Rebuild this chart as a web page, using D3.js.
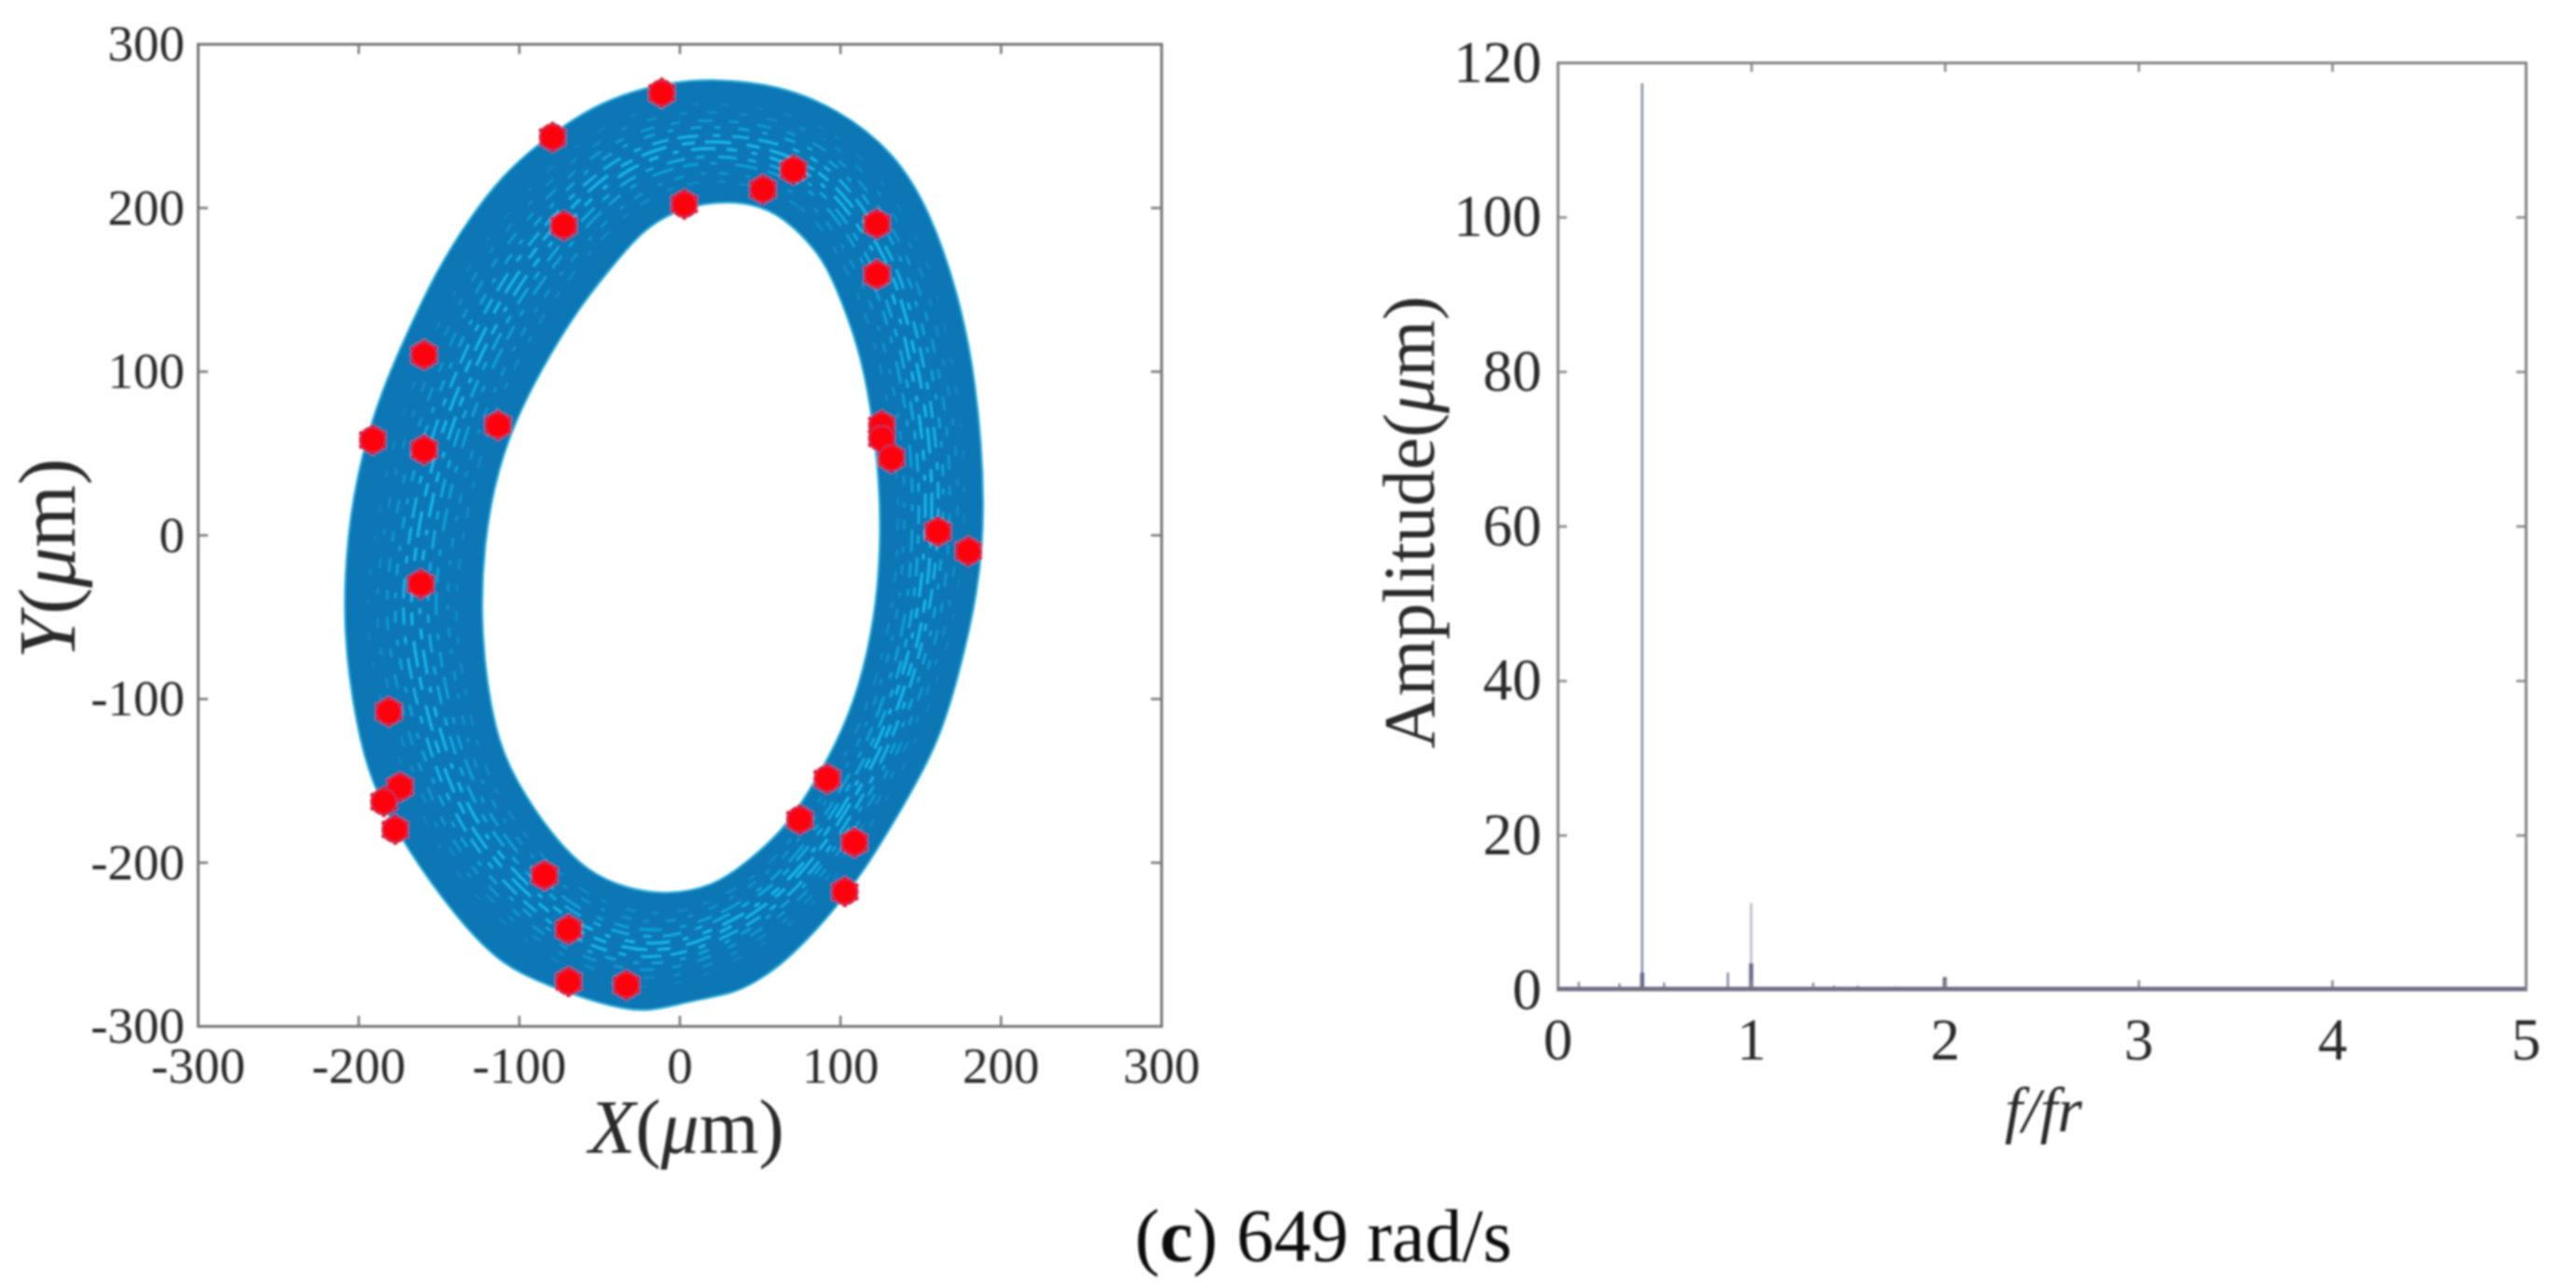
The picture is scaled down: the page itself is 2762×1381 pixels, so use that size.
<!DOCTYPE html>
<html>
<head>
<meta charset="utf-8">
<script src="https://cdn.jsdelivr.net/npm/d3@7"></script>
<style>
  body { margin: 0; background: #fff; }
  text { font-family: "Liberation Serif", serif; fill: #2b2b2b; }
</style>
</head>
<body>
<div class="svg-container"></div>
<script>
// orbit plot: band edges, [x, y] in um
const outerEdge = [[22,279],[61,275],[98,261],[134,234],[156,198],[173,150],[185,96],[191,16],[186,-36],[174,-86],[161,-129],[134,-175],[114,-207],[93,-233],[79,-248],[63,-263],[48,-273],[34,-280],[12,-284],[-1,-287],[-19,-291],[-33,-290],[-54,-285],[-80,-276],[-110,-264],[-139,-234],[-170,-192],[-192,-152],[-201,-118],[-210,-60],[-207,3],[-198,49],[-186,87],[-169,125],[-152,160],[-132,192],[-110,220],[-88,239],[-59,259],[-36,269],[-10,276]];
const innerEdge = [[22,204],[51,202],[71,189],[90,168],[100,145],[111,116],[119,81],[125,28],[125,-10],[122,-48],[112,-94],[97,-129],[81,-156],[65,-180],[42,-200],[21,-215],[-9,-220],[-33,-216],[-57,-206],[-80,-183],[-102,-150],[-115,-122],[-124,-61],[-122,-5],[-113,41],[-99,77],[-79,113],[-60,142],[-41,165],[-23,186],[-3,198]];

// lighter orbit streaks inside the band, inner ring first
const streakRings = [
  [[22,216],[75,200],[108,153],[129,84],[136,8],[127,-70],[98,-144],[48,-207],[-9,-231],[-60,-217],[-114,-156],[-138,-63],[-135,-4],[-113,79],[-72,152],[-22,203]],
  [[22,221],[77,205],[112,157],[134,85],[140,8],[131,-70],[102,-145],[50,-210],[-9,-236],[-61,-222],[-118,-160],[-143,-64],[-141,-3],[-119,79],[-77,155],[-24,208]],
  [[22,227],[79,211],[117,161],[139,86],[145,8],[136,-70],[106,-146],[53,-214],[-9,-241],[-62,-228],[-121,-165],[-150,-65],[-148,-3],[-126,80],[-83,158],[-27,214]],
  [[22,231],[80,215],[120,164],[143,86],[149,8],[140,-70],[110,-146],[55,-216],[-9,-245],[-63,-232],[-124,-169],[-155,-66],[-153,-2],[-131,81],[-87,161],[-29,218]],
  [[22,236],[82,219],[124,167],[147,87],[153,8],[143,-70],[113,-147],[58,-219],[-9,-249],[-65,-236],[-127,-173],[-160,-67],[-158,-2],[-136,81],[-91,164],[-31,223]],
  [[22,240],[84,223],[127,170],[151,88],[157,8],[147,-70],[116,-148],[60,-221],[-9,-253],[-66,-240],[-130,-177],[-165,-68],[-163,-1],[-141,81],[-96,166],[-33,227]],
  [[22,244],[86,228],[130,173],[155,88],[161,8],[150,-70],[120,-149],[63,-224],[-9,-257],[-67,-245],[-133,-181],[-170,-69],[-168,-1],[-146,82],[-100,169],[-35,231]],
  [[22,249],[88,232],[134,176],[159,89],[164,8],[154,-70],[123,-150],[65,-226],[-9,-261],[-68,-249],[-136,-185],[-175,-70],[-173,0],[-151,83],[-104,172],[-37,236]],
  [[22,253],[89,236],[137,179],[163,90],[168,8],[158,-70],[126,-151],[67,-229],[-9,-265],[-69,-253],[-139,-189],[-180,-70],[-178,1],[-156,84],[-109,175],[-39,240]],
  [[22,258],[91,241],[141,182],[167,91],[173,8],[162,-70],[130,-151],[70,-232],[-9,-270],[-70,-258],[-142,-193],[-186,-71],[-184,1],[-162,84],[-114,178],[-41,245]],
  [[22,263],[93,246],[145,186],[172,92],[177,8],[166,-70],[134,-152],[72,-235],[-9,-275],[-71,-263],[-145,-197],[-192,-72],[-189,2],[-168,85],[-119,181],[-44,250]]
];

// red markers on the orbit
const markerX = [-11,-79,-72,3,52,71,123,123,-159,-113,-191,-159,126,126,132,161,180,-161,-181,92,-174,-184,-177,75,109,103,-84,-69,-69,-33];
const markerY = [270,243,189,202,211,223,190,159,110,67,58,52,67,59,47,2,-10,-30,-108,-149,-154,-163,-180,-174,-188,-218,-208,-241,-273,-275];

// spectrum plot
const spikeFreq = [0.437,1.0,0.11,0.32,0.55,0.88,1.32,1.43,1.55,1.75,2.0,2.43,3.0];
const spikeAmp = [117.3,11.2,1.0,0.8,0.9,2.2,0.9,0.5,0.5,0.4,1.6,0.3,0.3];
const spikeBaseFreq = [0.437,1.0,2.0];
const spikeBaseAmp = [2.2,3.4,1.6];
const floorFreq = [0,5];
const floorAmp = [0.15,0.15];

const orbitTicks = [-300,-200,-100,0,100,200,300];
const ampTicks = [0,20,40,60,80,100,120];
const freqTicks = [0,1,2,3,4,5];

const width = 2762;
const height = 1381;

const svg = d3.select('.svg-container')
  .append('svg')
  .attr('width', width)
  .attr('height', height)
  .style('display', 'block');

// the original is a soft upscaled scan
svg.append('filter')
  .attr('id', 'soft')
  .append('feGaussianBlur')
  .attr('stdDeviation', 0.9);

const root = svg.append('g').attr('filter', 'url(#soft)');

// frame with ticks on all four sides, labels on bottom and left only
function drawFrame(x, y, xTicks, yTicks, size, colour, labelSize, xPad, yPad) {
  const [x0, x1] = x.range();
  const [y0, y1] = y.range();
  const fmt = (d) => String(d);

  const axes = [
    [d3.axisBottom(x).tickValues(xTicks).tickFormat(fmt).tickSize(-size).tickPadding(xPad), 0, y0],
    [d3.axisTop(x).tickValues(xTicks).tickFormat('').tickSize(-size), 0, y1],
    [d3.axisLeft(y).tickValues(yTicks).tickFormat(fmt).tickSize(-size).tickPadding(yPad), x0, 0],
    [d3.axisRight(y).tickValues(yTicks).tickFormat('').tickSize(-size), x1, 0],
  ];

  axes.forEach(([axis, tx, ty]) => {
    const g = root.append('g')
      .attr('transform', `translate(${tx}, ${ty})`)
      .call(axis);
    g.select('.domain').attr('stroke', colour).attr('stroke-width', 3);
    g.selectAll('.tick line').attr('stroke', colour).attr('stroke-width', 2.5);
    g.selectAll('.tick text')
      .style('font-family', '"Liberation Serif", serif')
      .style('font-size', `${labelSize}px`)
      .attr('fill', '#2b2b2b');
  });
}

// left plot
const orbitX = d3.scaleLinear().domain([-300, 300]).range([212, 1245]);
const orbitY = d3.scaleLinear().domain([-300, 300]).range([1100, 47]);

const edgePath = d3.line()
  .x((d) => orbitX(d[0]))
  .y((d) => orbitY(d[1]))
  .curve(d3.curveBasisClosed);

const ringPath = d3.line()
  .x((d) => orbitX(d[0]))
  .y((d) => orbitY(d[1]))
  .curve(d3.curveCatmullRomClosed.alpha(0.5));

root.append('path')
  .attr('d', edgePath(outerEdge) + edgePath(innerEdge))
  .attr('fill', '#0877b6')
  .attr('fill-rule', 'evenodd')
  .attr('stroke', '#35b2dc')
  .attr('stroke-width', 2);

// uneven dashes so the streaks do not read as a regular pattern
const streakDash = ['7 16 12 21', '10 19 5 14', '16 13 7 20 24 11', '9 15 20 12', '26 12 11 16 6 14', '14 11 28 17', '8 13 18 10 22 16', '12 14 6 19', '10 20 15 18', '7 22 11 25', '6 24 9 30'];
const streakWidth = [1.6, 2, 2.4, 2.6, 3, 3, 2.8, 2.4, 2.2, 1.8, 1.5];
const streakAlpha = [0.5, 0.6, 0.75, 0.85, 1, 1, 0.95, 0.8, 0.65, 0.5, 0.35];

root.selectAll('.streak')
  .data(streakRings)
  .enter()
  .append('path')
  .attr('class', 'streak')
  .attr('d', ringPath)
  .attr('fill', 'none')
  .attr('stroke', '#14b6ea')
  .attr('stroke-width', (d, i) => streakWidth[i])
  .attr('stroke-opacity', (d, i) => streakAlpha[i])
  .attr('stroke-dasharray', (d, i) => streakDash[i])
  .attr('stroke-dashoffset', (d, i) => i * 13);

const markers = root.selectAll('.marker')
  .data(markerX.map((d, i) => [d, markerY[i]]))
  .enter()
  .append('g')
  .attr('class', 'marker')
  .attr('transform', (d) => `translate(${orbitX(d[0])}, ${orbitY(d[1])})`);

markers.append('path')
  .attr('d', d3.symbol(d3.symbolAsterisk, 760))
  .attr('stroke', '#e8001c')
  .attr('stroke-width', 4);

markers.append('circle')
  .attr('r', 13.5)
  .attr('fill', '#ff0010')
  .attr('stroke', '#c92a4c')
  .attr('stroke-width', 2.5);

drawFrame(orbitX, orbitY, orbitTicks, orbitTicks, 11, '#777', 55, 22, 14);

root.append('text')
  .attr('x', 736)
  .attr('y', 1236)
  .attr('text-anchor', 'middle')
  .style('font-size', '82px')
  .html('<tspan font-style="italic">X</tspan>(<tspan font-style="italic">μ</tspan>m)');

root.append('text')
  .attr('transform', 'translate(80, 599) rotate(-90)')
  .attr('text-anchor', 'middle')
  .style('font-size', '86px')
  .html('<tspan font-style="italic">Y</tspan>(<tspan font-style="italic">μ</tspan>m)');

// right plot
const specX = d3.scaleLinear().domain([0, 5]).range([1670, 2708]);
const specY = d3.scaleLinear().domain([0, 120]).range([1061, 67]);

root.selectAll('.spike')
  .data(spikeFreq.map((d, i) => [d, spikeAmp[i]]))
  .enter()
  .append('line')
  .attr('class', 'spike')
  .attr('x1', (d) => specX(d[0]))
  .attr('x2', (d) => specX(d[0]))
  .attr('y1', specY(0))
  .attr('y2', (d) => specY(d[1]))
  .attr('stroke', (d) => (d[1] > 5 && d[1] < 20 ? '#b9bacb' : '#8d90ab'))
  .attr('stroke-width', 2.6);

root.selectAll('.spike-base')
  .data(spikeBaseFreq.map((d, i) => [d, spikeBaseAmp[i]]))
  .enter()
  .append('line')
  .attr('class', 'spike-base')
  .attr('x1', (d) => specX(d[0]))
  .attr('x2', (d) => specX(d[0]))
  .attr('y1', specY(0))
  .attr('y2', (d) => specY(d[1]))
  .attr('stroke', '#6a6b90')
  .attr('stroke-width', 4.5);

drawFrame(specX, specY, freqTicks, ampTicks, 10, '#858585', 63, 30, 17);

root.append('line')
  .attr('x1', specX(floorFreq[0]))
  .attr('x2', specX(floorFreq[1]))
  .attr('y1', specY(floorAmp[0]))
  .attr('y2', specY(floorAmp[1]))
  .attr('stroke', '#6f6c8c')
  .attr('stroke-width', 3.5);

root.append('text')
  .attr('transform', 'translate(1537, 560) rotate(-90)')
  .attr('text-anchor', 'middle')
  .style('font-size', '78px')
  .html('Amplitude(<tspan font-style="italic">μ</tspan>m)');

root.append('text')
  .attr('x', 2191)
  .attr('y', 1213)
  .attr('text-anchor', 'middle')
  .style('font-size', '68px')
  .style('font-style', 'italic')
  .text('f/fr');

// caption
root.append('text')
  .attr('x', 1419)
  .attr('y', 1352)
  .attr('text-anchor', 'middle')
  .style('font-size', '80px')
  .style('fill', '#111')
  .html('(<tspan font-weight="bold">c</tspan>) 649 rad/s');
</script>
</body>
</html>
